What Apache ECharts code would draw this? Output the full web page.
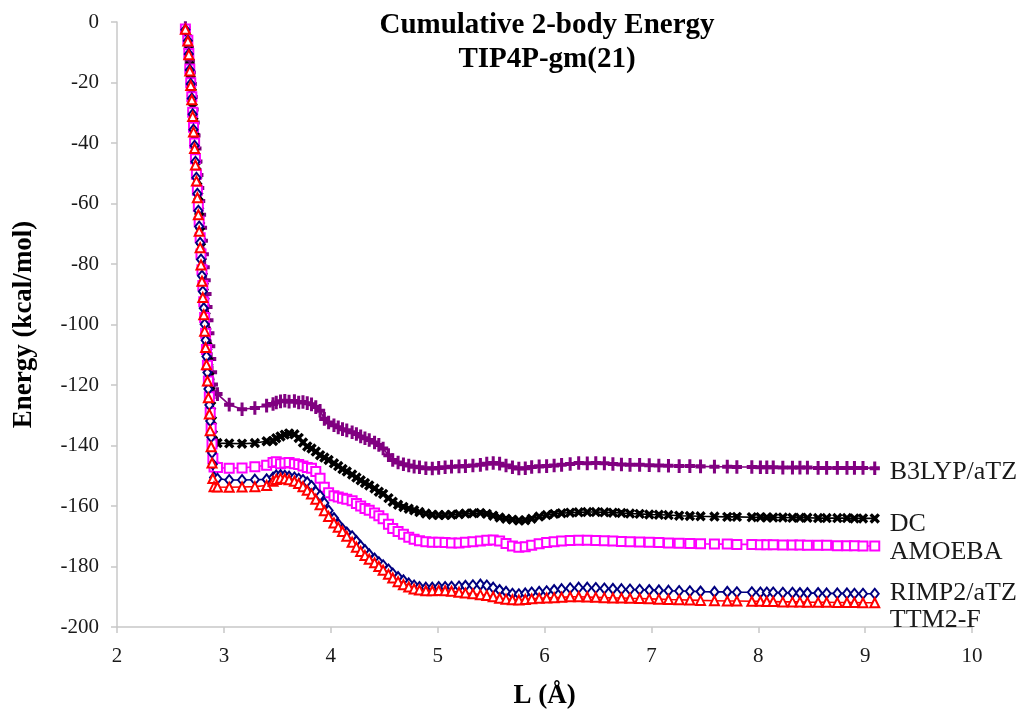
<!DOCTYPE html>
<html>
<head>
<meta charset="utf-8">
<title>Cumulative 2-body Energy – TIP4P-gm(21)</title>
<script src="https://cdn.jsdelivr.net/npm/echarts@6/dist/echarts.min.js"></script>
<style>
  html, body { margin: 0; padding: 0; background: #ffffff; }
  #chart { width: 1029px; height: 719px; }
</style>
</head>
<body>
<div id="chart"></div>
<script>
// Pair distance L (Å), shared by every method
const pairDistance = [
  2.640, 2.663, 2.672, 2.681, 2.690, 2.700, 2.708, 2.716, 2.726, 2.734,
  2.743, 2.752, 2.761, 2.769, 2.778, 2.786, 2.795, 2.803, 2.812, 2.820,
  2.829, 2.837, 2.846, 2.855, 2.864, 2.872, 2.881, 2.889, 2.897, 2.908,
  2.94, 3.05, 3.17, 3.29, 3.40,
  3.46, 3.49, 3.53, 3.57, 3.61, 3.66, 3.70, 3.74, 3.78, 3.82,
  3.86, 3.90, 3.94, 3.98, 4.03, 4.07, 4.11, 4.15, 4.20, 4.24,
  4.28, 4.32, 4.36, 4.41, 4.45, 4.49, 4.54, 4.58, 4.63, 4.68,
  4.73, 4.78, 4.83, 4.89, 4.95, 5.01,
  5.07, 5.13, 5.20, 5.26, 5.33, 5.40, 5.46, 5.52, 5.58, 5.64,
  5.70, 5.76, 5.82, 5.88, 5.95, 6.02, 6.09, 6.16, 6.24, 6.32,
  6.40, 6.48, 6.56, 6.64, 6.72, 6.80, 6.89, 6.98, 7.07, 7.16,
  7.26, 7.36, 7.46,
  7.59, 7.71, 7.80, 7.94, 8.02, 8.08, 8.14, 8.23, 8.32, 8.39,
  8.46, 8.56, 8.64, 8.74, 8.83, 8.90, 8.98, 9.09
];

// Cumulative 2-body energy (kcal/mol) for each method
const b3lyp = [
  -2.0, -5.0, -8.6, -12.8, -16.7, -20.5, -24.8, -28.9, -33.2, -37.5,
  -41.8, -46.1, -50.6, -54.9, -59.2, -63.7, -68.0, -72.3, -76.8, -81.1,
  -85.4, -89.9, -94.2, -98.6, -102.9, -107.2, -111.4, -115.8, -119.8, -122.4,
  -123.0, -126.5, -128.0, -127.6, -126.8,
  -126.3, -125.8, -125.4, -125.2, -125.5, -125.3, -125.8, -125.6, -126.0, -126.4,
  -127.3, -128.5, -131.2, -132.4, -133.3, -134.0, -134.6, -135.0, -135.6, -136.2,
  -137.0, -137.6, -138.2, -139.0, -139.8, -141.0, -143.2, -144.8, -145.6, -146.2,
  -146.6, -147.0, -147.2, -147.5, -147.6, -147.4,
  -147.2, -147.0, -146.9, -146.8, -146.6, -146.4, -146.0, -145.8, -146.0, -146.6,
  -147.2, -147.6, -147.5, -147.1, -146.9, -146.8, -146.6, -146.4, -146.1, -145.8,
  -145.9, -145.8, -145.9, -146.1, -146.3, -146.4, -146.4, -146.5, -146.6, -146.7,
  -146.8, -146.8, -146.9,
  -147.0, -147.0, -147.1, -147.1, -147.2, -147.2, -147.2, -147.3, -147.3, -147.3,
  -147.3, -147.4, -147.4, -147.4, -147.4, -147.4, -147.4, -147.5
];

const dc = [
  -2.6, -5.6, -9.8, -14.6, -19.0, -23.3, -28.2, -32.9, -37.8, -42.7,
  -47.6, -52.5, -57.6, -62.5, -67.4, -72.5, -77.4, -82.3, -87.5, -92.4,
  -97.3, -102.4, -107.3, -112.3, -117.2, -122.1, -126.9, -131.8, -136.4, -139.0,
  -139.2, -139.3, -139.4, -139.2, -138.6,
  -138.5, -137.6, -137.0, -136.4, -136.0, -136.3, -137.5, -139.0, -140.3, -141.0,
  -142.0, -143.2, -144.0, -144.8, -145.9, -146.8, -147.8, -148.6, -149.6, -150.6,
  -151.5, -152.4, -153.2, -154.2, -155.3, -156.0, -157.4, -158.6, -159.6, -160.3,
  -160.9, -161.4, -162.0, -162.5, -162.9, -163.0,
  -163.0, -162.9, -162.7, -162.5, -162.4, -162.3, -162.6, -163.2, -163.8, -164.2,
  -164.5, -164.8, -164.7, -164.2, -163.5, -163.0, -162.6, -162.4, -162.2, -162.1,
  -162.0, -162.0, -162.1, -162.2, -162.3, -162.5, -162.6, -162.8, -162.9, -163.0,
  -163.2, -163.3, -163.4,
  -163.5, -163.6, -163.6, -163.7, -163.7, -163.8, -163.8, -163.8, -163.9, -163.9,
  -163.9, -164.0, -164.0, -164.0, -164.0, -164.1, -164.1, -164.1
];

const amoeba = [
  -2.3, -6.0, -10.4, -15.5, -20.1, -24.7, -29.8, -34.8, -40.0, -45.2,
  -50.3, -55.6, -60.9, -66.1, -71.3, -76.7, -81.9, -87.1, -92.5, -97.7,
  -102.9, -108.3, -113.5, -118.7, -123.9, -129.1, -134.3, -139.5, -144.3, -147.1,
  -147.3, -147.5, -147.4, -147.0, -146.5,
  -145.6, -145.4, -146.0, -145.8, -145.6, -146.0, -146.3, -146.8, -147.3, -147.5,
  -148.6, -150.8, -153.8, -155.6, -156.6, -157.0, -157.4, -157.8, -158.3, -159.2,
  -160.0, -160.8, -161.4, -162.3, -163.2, -164.2, -166.0, -167.4, -168.4, -169.3,
  -170.3, -171.0, -171.5, -171.8, -172.0, -172.0,
  -172.1, -172.2, -172.2, -172.0, -171.8, -171.6, -171.3, -171.2, -171.6, -172.4,
  -173.2, -173.6, -173.5, -173.0, -172.5, -172.1, -171.8, -171.6, -171.4, -171.3,
  -171.3, -171.4, -171.5, -171.6, -171.7, -171.8, -171.9, -172.0, -172.1, -172.2,
  -172.3, -172.4, -172.5,
  -172.6, -172.6, -172.7, -172.7, -172.8, -172.8, -172.8, -172.9, -172.9, -172.9,
  -173.0, -173.0, -173.0, -173.1, -173.1, -173.1, -173.2, -173.2
];

const rimp2 = [
  -2.6, -6.2, -10.6, -15.9, -20.5, -25.3, -30.5, -35.6, -40.9, -46.2,
  -51.5, -56.8, -62.4, -67.6, -73.0, -78.5, -83.9, -89.1, -94.6, -99.9,
  -105.2, -110.6, -115.9, -121.3, -126.6, -131.9, -137.2, -142.4, -146.2, -150.6,
  -151.0, -151.4, -151.4, -151.3, -151.2,
  -150.6, -149.9, -149.8, -150.0, -150.3, -150.6, -151.0, -151.4, -152.2, -153.4,
  -155.3, -156.6, -159.0, -161.5, -164.0, -166.0, -167.6, -168.8, -170.0, -171.6,
  -173.2, -174.6, -176.0, -177.4, -178.6, -179.6, -181.0, -182.3, -183.5, -184.6,
  -185.6, -186.3, -186.8, -187.0, -187.0, -186.8,
  -186.8, -186.7, -186.6, -186.4, -186.2, -186.0, -186.3, -187.0, -187.8, -188.4,
  -189.0, -189.2, -188.9, -188.6, -188.4, -188.2, -187.8, -187.5, -187.2, -187.0,
  -187.0, -187.1, -187.3, -187.4, -187.5, -187.6, -187.7, -187.8, -187.9, -188.0,
  -188.1, -188.2, -188.3,
  -188.4, -188.4, -188.5, -188.5, -188.6, -188.6, -188.6, -188.7, -188.7, -188.8,
  -188.8, -188.8, -188.9, -188.9, -188.9, -189.0, -189.0, -189.0
];

const ttm2f = [
  -2.4, -6.3, -10.8, -16.2, -21.0, -25.7, -31.2, -36.4, -41.8, -47.3,
  -52.6, -58.1, -63.7, -69.2, -74.6, -80.3, -85.7, -91.1, -96.8, -102.2,
  -107.6, -113.3, -118.7, -124.2, -129.6, -135.1, -140.4, -145.8, -150.9, -153.6,
  -153.7, -153.8, -153.7, -153.6, -153.2,
  -151.8, -151.2, -150.8, -151.0, -151.3, -151.8, -152.6, -153.6, -154.8, -156.0,
  -157.8, -159.6, -161.6, -163.5, -165.6, -167.0, -168.4, -170.0, -172.0, -173.6,
  -175.0, -176.4, -177.6, -178.8, -180.0, -181.2, -182.6, -183.8, -185.0, -186.0,
  -186.8, -187.4, -187.8, -188.0, -188.0, -187.9,
  -188.0, -188.2, -188.5, -188.8, -189.0, -189.3, -189.6, -190.0, -190.5, -190.8,
  -191.0, -191.1, -190.9, -190.7, -190.5, -190.4, -190.3, -190.2, -190.0, -190.0,
  -190.1, -190.2, -190.3, -190.4, -190.4, -190.5, -190.6, -190.7, -190.8, -190.9,
  -191.0, -191.1, -191.2,
  -191.3, -191.4, -191.4, -191.5, -191.5, -191.6, -191.6, -191.7, -191.7, -191.7,
  -191.8, -191.8, -191.8, -191.9, -191.9, -191.9, -192.0, -192.0
];

// Axis ranges
const xRange = { min: 2, max: 10, step: 1 };
const yRange = { min: -200, max: 0, step: 20 };
const titleLines = ['Cumulative 2-body Energy', 'TIP4P-gm(21)'];

const SERIF = '"Liberation Serif", "Times New Roman", serif';
const PLUS = 'path://M4,0H6V4H10V6H6V10H4V6H0V4H4Z';

function pairs(values) {
  return pairDistance.map(function (x, i) { return [x, values[i]]; });
}

function method(name, values, color, symbol, size, extra, labelOffset) {
  const s = {
    name: name,
    type: 'line',
    data: pairs(values),
    symbol: symbol,
    symbolSize: size,
    showSymbol: true,
    lineStyle: { color: color, width: 1.6 },
    itemStyle: { color: color, borderColor: color, borderWidth: 1.4 },
    emphasis: { disabled: true },
    clip: false,
    endLabel: {
      show: true,
      formatter: '{a}',
      offset: labelOffset,
      color: '#1a1a1a',
      fontFamily: SERIF,
      fontSize: 26
    },
    z: 2
  };
  return Object.assign(s, extra || {});
}

const chart = echarts.init(document.getElementById('chart'), null, { renderer: 'canvas' });

chart.setOption({
  animation: false,
  backgroundColor: '#ffffff',
  grid: { left: 117, right: 57, top: 22, bottom: 92, containLabel: false },
  graphic: [
    {
      type: 'text', x: 547, y: 26,
      style: { text: titleLines[0], textAlign: 'center', textVerticalAlign: 'middle',
               font: 'bold 29px ' + SERIF, fill: '#000' }
    },
    {
      type: 'text', x: 547, y: 60,
      style: { text: titleLines[1], textAlign: 'center', textVerticalAlign: 'middle',
               font: 'bold 29px ' + SERIF, fill: '#000' }
    }
  ],
  xAxis: {
    type: 'value',
    min: xRange.min, max: xRange.max, interval: xRange.step,
    name: 'L (Å)',
    nameLocation: 'middle',
    nameGap: 56,
    nameTextStyle: { fontFamily: SERIF, fontSize: 27, fontWeight: 'bold', color: '#000' },
    axisLine: { show: true, onZero: false, lineStyle: { color: '#c8c8c8', width: 1.5 } },
    axisTick: { show: true, inside: false, length: 6, lineStyle: { color: '#c8c8c8', width: 1.5 } },
    axisLabel: { margin: 19, fontFamily: SERIF, fontSize: 21, color: '#1a1a1a' },
    splitLine: { show: false }
  },
  yAxis: {
    type: 'value',
    min: yRange.min, max: yRange.max, interval: yRange.step,
    name: 'Energy (kcal/mol)',
    nameLocation: 'middle',
    nameGap: 79,
    nameTextStyle: { fontFamily: SERIF, fontSize: 27, fontWeight: 'bold', color: '#000' },
    axisLine: { show: true, onZero: false, lineStyle: { color: '#c8c8c8', width: 1.5 } },
    axisTick: { show: true, inside: false, length: 6, lineStyle: { color: '#c8c8c8', width: 1.5 } },
    axisLabel: { margin: 18, fontFamily: SERIF, fontSize: 21, color: '#1a1a1a' },
    splitLine: { show: false }
  },
  series: [
    method('B3LYP/aTZ', b3lyp, '#800080', PLUS, [9, 12], null, [7, 4]),
    method('DC', dc, '#000000', PLUS, [10, 10], { symbolRotate: 45 }, [7, 6]),
    method('AMOEBA', amoeba, '#ff00ff', 'emptyRect', 9, null, [7, 6]),
    method('RIMP2/aTZ', rimp2, '#000080', 'emptyDiamond', [8, 10], null, [7, -1]),
    method('TTM2-F', ttm2f, '#ff0000', 'emptyTriangle', 9, null, [7, 17])
  ]
});
</script>
</body>
</html>
